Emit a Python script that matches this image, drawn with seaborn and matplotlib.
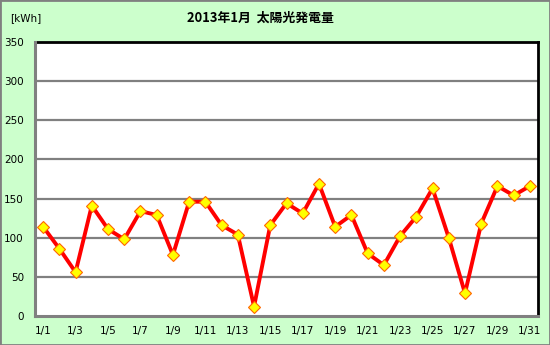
import matplotlib
matplotlib.use("Agg")
import matplotlib.pyplot as plt
import seaborn as sns
import pandas as pd
from matplotlib.patches import Rectangle

days = [f"1/{d}" for d in range(1, 32)]
kwh = [114, 86, 56, 141, 111, 98, 134, 129, 78, 146, 146, 116, 104, 12, 116,
       144, 131, 169, 114, 129, 80, 65, 102, 127, 163, 100, 29, 118, 166, 154, 166]
yticks = [0, 50, 100, 150, 200, 250, 300, 350]
title = "2013年1月  太陽光発電量"
unit = "[kWh]"

sns.set_theme(style="white")
plt.rcParams['font.family'] = ['Noto Sans CJK JP', 'DejaVu Sans']

df = pd.DataFrame({"day": days, "kwh": kwh})

fig = plt.figure(figsize=(5.5, 3.45), dpi=100, facecolor="#CCFFCC")
ax = fig.add_axes([35/550, 29/345, 503/550, 274/345])
ax.set_facecolor("white")

sns.lineplot(data=df, x="day", y="kwh", ax=ax, color="#FF0000", linewidth=2.8,
             marker="D", markersize=6, markerfacecolor="#FFFF00",
             markeredgecolor="#FF6600", markeredgewidth=0.8, sort=False, zorder=5)

ax.set_xlim(-0.5, 30.5)
ax.set_ylim(0, 350)
ax.set_yticks(yticks)
ax.set_yticklabels([str(v) for v in yticks], fontsize=7.5, family="DejaVu Sans")
ax.set_xticks(range(0, 31, 2))
ax.set_xticklabels(days[::2], fontsize=7.5, family="DejaVu Sans")
ax.set_xlabel("")
ax.set_ylabel("")
for v in yticks[1:-1]:
    ax.axhline(v, color="#808080", linewidth=1.6, zorder=1)

for s in ["top", "right"]:
    ax.spines[s].set_color("black")
    ax.spines[s].set_linewidth(2)
for s in ["left", "bottom"]:
    ax.spines[s].set_color("#808080")
    ax.spines[s].set_linewidth(2.2)
    ax.spines[s].set_zorder(6)
ax.tick_params(axis="y", length=0, pad=8, colors="black")
ax.tick_params(axis="x", length=0, pad=7, colors="black")

fig.text(260/550, 1 - 18/345, title, ha="center", va="center", fontsize=9.3,
         fontweight="bold", color="black")
fig.text(10/550, 1 - 18/345, unit, ha="left", va="center", fontsize=7.5,
         family="DejaVu Sans", color="black")

fig.patches.append(Rectangle((0, 0), 1, 1, transform=fig.transFigure, fill=False,
                             edgecolor="#808080", linewidth=2))

fig.savefig("out.png", dpi=100, facecolor=fig.get_facecolor())
